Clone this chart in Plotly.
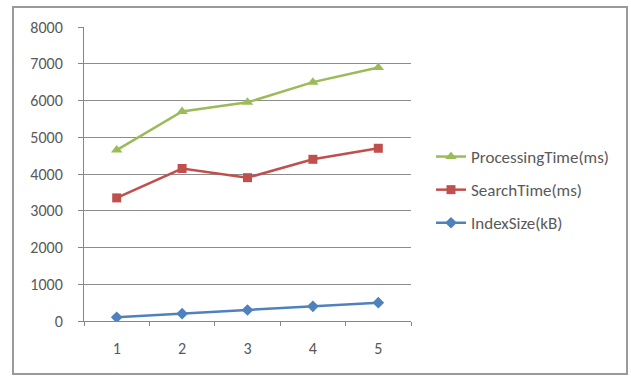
import plotly.graph_objects as go

categories = ["1", "2", "3", "4", "5"]
processing_time = [4650, 5700, 5950, 6500, 6900]
search_time = [3350, 4150, 3900, 4400, 4700]
index_size = [100, 200, 300, 400, 500]
y_ticks = [0, 1000, 2000, 3000, 4000, 5000, 6000, 7000, 8000]

W, H = 631, 377
L, R, T, B = 84, 220, 27, 56
pw = W - L - R
ph = H - T - B

fig = go.Figure()
fig.add_trace(go.Scatter(
    x=categories, y=index_size, name="IndexSize(kB)", mode="lines+markers",
    line=dict(color="#4F81BD", width=2.5),
    marker=dict(symbol="diamond", size=9, color="#4F81BD"),
    legendgroup="c", legendrank=3))
fig.add_trace(go.Scatter(
    x=categories, y=search_time, name="SearchTime(ms)", mode="lines+markers",
    line=dict(color="#C0504D", width=2.5),
    marker=dict(symbol="square", size=9, color="#C0504D"),
    legendgroup="b", legendrank=2))
fig.add_trace(go.Scatter(
    x=categories, y=processing_time, name="ProcessingTime(ms)", mode="lines+markers",
    line=dict(color="#9BBB59", width=2.5),
    marker=dict(symbol="triangle-up", size=10, color="#9BBB59"),
    legendgroup="a", legendrank=1))

font_family = "Carlito, Liberation Sans, Arial, sans-serif"

fig.update_layout(
    width=W, height=H,
    margin=dict(l=L, r=R, t=T, b=B),
    paper_bgcolor="white", plot_bgcolor="white",
    font=dict(family=font_family, size=16, color="#595959"),
    showlegend=True,
    legend=dict(x=(431 - L) / pw, y=(T + ph - 190) / ph, xanchor="left", yanchor="middle",
                font=dict(size=17, color="#595959"), tracegroupgap=8,
                bgcolor="rgba(0,0,0,0)", itemwidth=30),
    xaxis=dict(type="category", range=[-0.5, 4.5], showgrid=False,
               showline=True, linecolor="#868686", linewidth=1,
               ticks="outside", ticklen=4, tickcolor="#868686", tickson="boundaries",
               ticklabelstandoff=13,
               tickfont=dict(size=16, color="#595959"), fixedrange=True),
    yaxis=dict(range=[0, 8000], tickvals=y_ticks, showgrid=True,
               gridcolor="#8C8C8C", gridwidth=1, zeroline=False,
               showline=True, linecolor="#868686", linewidth=1,
               ticks="outside", ticklen=5, tickcolor="#868686",
               ticklabelstandoff=12,
               tickfont=dict(size=16, color="#595959"), fixedrange=True),
    shapes=[dict(type="rect", xref="paper", yref="paper",
                 x0=(13 - L) / pw, x1=(627 - L) / pw,
                 y0=(T + ph - 374) / ph, y1=(T + ph - 7) / ph,
                 line=dict(color="#9A9A9A", width=2), layer="below")],
)

fig.write_html("out.html")
